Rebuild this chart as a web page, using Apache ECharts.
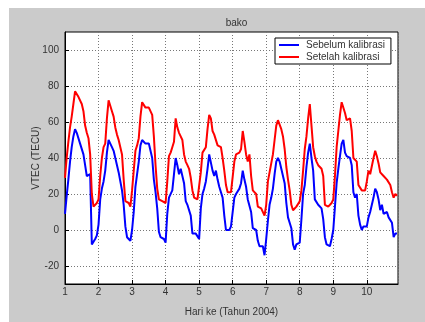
<!DOCTYPE html>
<html>
<head>
<meta charset="utf-8">
<script src="https://cdn.jsdelivr.net/npm/echarts@6/dist/echarts.min.js"></script>
<style>
html,body{margin:0;padding:0;background:#fff;}
#bg{position:absolute;left:9px;top:8px;width:416px;height:314px;background:#cbcbcb;}
#chart{position:absolute;left:0;top:0;width:425px;height:322px;}
</style>
</head>
<body>
<div id="bg"></div>
<div id="chart"></div>
<script>
// ---- data ----
const TITLE = 'bako';
const X_NAME = 'Hari ke (Tahun 2004)';
const Y_NAME = 'VTEC (TECU)';
const SERIES_NAMES = ['Sebelum kalibrasi', 'Setelah kalibrasi'];
const START_DAY = 1;
const STEP_DAY = 0.05;
const X_MAX = 10.93;
const X_TICKS = [1,2,3,4,5,6,7,8,9,10];
const Y_TICKS = [-20,0,20,40,60,80,100];
const Y_MIN = -30, Y_MAX = 110;

// Sebelum kalibrasi (blue)
const sebelum = [
 9,19,28,38,46,52,56,54,53,48,47,42,36,30,31,31,-8,-9,-5,-3,
 3,17,23,27,33,43,50,48,46,44,40,36,32,27,22,14,2,-4,-4,-6,
 0,10,24,31,38,47,50,49,48,48,48,44,40,28,21,12,-1,-4,-5,-5,
 -7,9,18,19,22,31,40,36,31,34,30,26,16,14,13,8,-2,-3,-2,-3,
 -5,12,20,23,27,34,42,42,33,30,33,28,24,24,18,8,0,-1,0,2,
 3,18,20,21,23,26,33,28,24,17,18,10,1,2,0,-6,-9,-8,-9,-14,
 -5,5,14,18,23,31,38,40,38,34,33,26,15,7,8,1,-8,-11,-8,-8,
 -7,6,20,25,35,43,48,40,33,17,18,14,13,12,6,-4,-8,-7,-9,-5,
 0,13,26,34,41,48,50,43,41,42,40,36,21,18,20,8,3,0,2,1,
 2,7,10,10,18,23,21,17,11,14,9,8,10,7,7,4,-4,-2,-2
];
// Setelah kalibrasi (red)
const setelah = [
 29,40,49,57,63,70,77,76,74,73,70,66,58,54,51,42,20,13,14,15,
 17,30,40,46,48,62,72,69,66,63,57,53,50,46,42,28,16,15,15,13,
 22,33,44,47,51,63,71,70,68,69,68,67,64,52,36,23,17,16,16,15,
 15,27,41,43,46,49,62,57,54,52,50,42,38,36,34,29,22,18,18,17,
 16,32,43,44,46,56,64,62,55,53,53,47,48,46,40,33,25,21,21,21,
 20,38,42,42,43,45,55,49,42,38,42,30,22,23,20,13,14,12,11,8,
 14,27,32,37,42,50,58,61,61,56,52,45,35,28,22,14,11,12,13,14,
 16,22,33,45,52,62,70,58,46,41,38,36,35,34,30,14,13,13,14,15,
 17,30,46,55,64,71,72,65,61,61,62,55,40,40,38,25,25,22,23,22,
 27,33,31,32,40,44,41,37,32,33,30,29,28,28,25,21,18,20,19
];

const days = sebelum.map((_, i) => +(START_DAY + i * STEP_DAY).toFixed(2));
const pairs = arr => arr.map((v, i) => [days[i], v]);

const FONT = 'Liberation Sans';
const TXT = '#333';
const chart = echarts.init(document.getElementById('chart'), null, {renderer: 'canvas'});
chart.setOption({
  animation: false,
  backgroundColor: 'transparent',
  textStyle: {fontFamily: FONT},
  title: {
    text: TITLE, left: 231.5, top: 13, textAlign: 'center',
    textStyle: {fontSize: 10, fontWeight: 'normal', color: TXT, fontFamily: FONT}
  },
  grid: {
    left: 65, top: 32, right: 27, bottom: 29,
    show: true, backgroundColor: '#fff', borderColor: '#000', borderWidth: 1
  },
  legend: {
    orient: 'vertical', left: 275, top: 38,
    backgroundColor: '#fff', borderColor: '#000', borderWidth: 1,
    padding: [2, 6, 2, 4], itemGap: 2,
    itemWidth: 20, itemHeight: 2, icon: 'rect',
    textStyle: {fontSize: 10, color: TXT, fontFamily: FONT, padding: [0, 0, 0, 2]},
    data: SERIES_NAMES
  },
  xAxis: {
    type: 'value', min: START_DAY, max: X_MAX, interval: 1,
    name: X_NAME, nameLocation: 'middle', nameGap: 23, nameMoveOverlap: false,
    nameTextStyle: {fontSize: 10, color: TXT, fontFamily: FONT},
    axisLine: {show: true, onZero: false, lineStyle: {color: '#000'}},
    axisTick: {show: true, inside: true, length: 4, lineStyle: {color: '#000'}},
    axisLabel: {
      fontSize: 10, color: TXT, margin: 3, showMaxLabel: false, fontFamily: FONT,
      formatter: v => (X_TICKS.indexOf(v) >= 0 ? String(v) : '')
    },
    splitLine: {show: true, lineStyle: {color: '#777', type: [1, 2], width: 1}}
  },
  yAxis: {
    type: 'value', min: Y_MIN, max: Y_MAX,
    name: Y_NAME, nameLocation: 'middle', nameGap: 24, nameRotate: 90, nameMoveOverlap: false,
    nameTextStyle: {fontSize: 10, color: TXT, fontFamily: FONT},
    axisLine: {show: true, onZero: false, lineStyle: {color: '#000'}},
    axisTick: {show: true, inside: true, length: 4, customValues: Y_TICKS, lineStyle: {color: '#000'}},
    axisLabel: {fontSize: 10, color: TXT, margin: 6, customValues: Y_TICKS, fontFamily: FONT},
    splitLine: {show: true, lineStyle: {color: '#777', type: [1, 2], width: 1}}
  },
  series: [
    {name: SERIES_NAMES[0], type: 'line', data: pairs(sebelum), showSymbol: false, symbol: 'none',
     lineStyle: {color: '#0000ff', width: 2}, itemStyle: {color: '#0000ff'}},
    {name: SERIES_NAMES[1], type: 'line', data: pairs(setelah), showSymbol: false, symbol: 'none',
     lineStyle: {color: '#ff0000', width: 2}, itemStyle: {color: '#ff0000'}}
  ]
});
</script>
</body>
</html>
